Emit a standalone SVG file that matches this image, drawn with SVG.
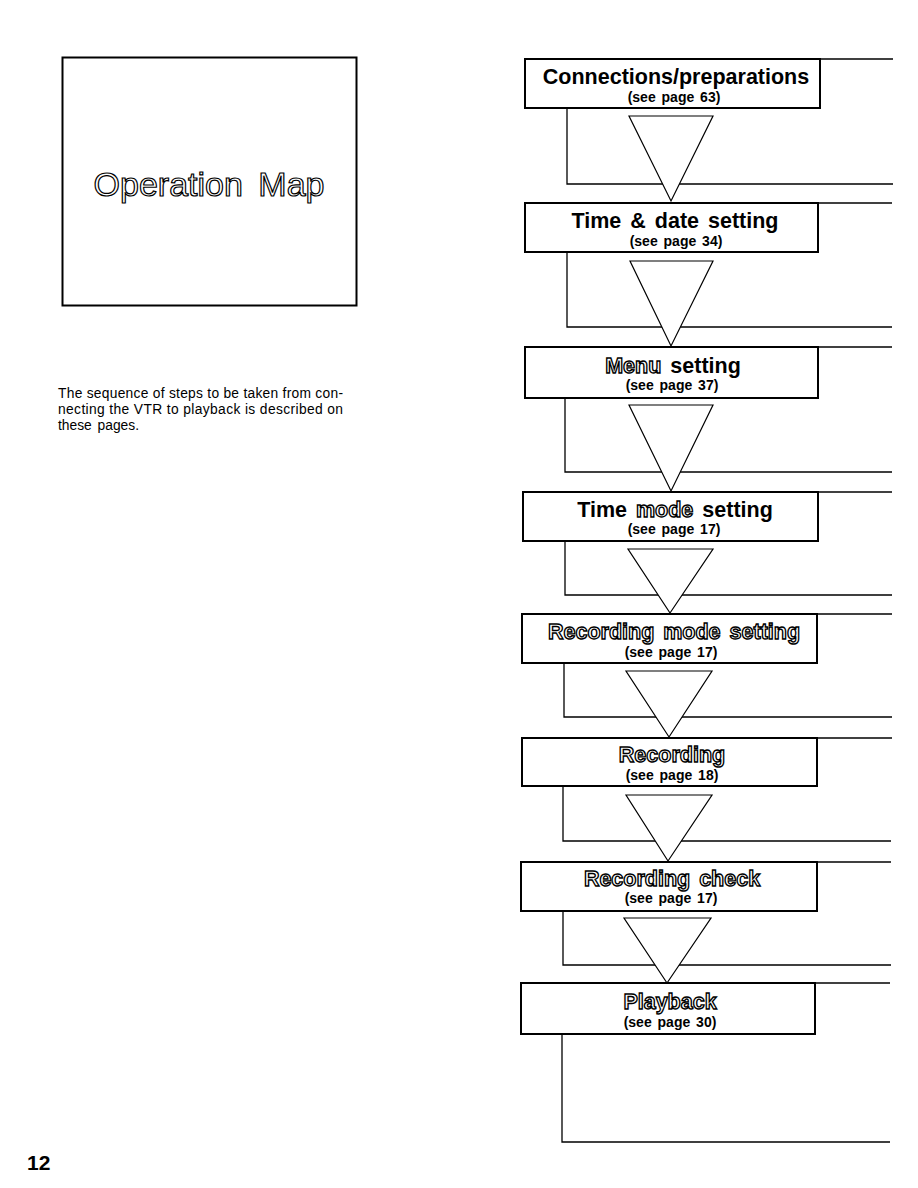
<svg xmlns="http://www.w3.org/2000/svg" width="918" height="1188" viewBox="0 0 918 1188">
<style>
text{font-family:"Liberation Sans",Arial,sans-serif;fill:#000}
.box{fill:#fff;stroke:#000;stroke-width:2}
.ln{fill:none;stroke:#000;stroke-width:1.3}
.tri{fill:#fff;stroke:#000;stroke-width:1.2;stroke-linejoin:miter}
.t{font-size:21.5px;font-weight:bold;text-anchor:middle}
.s{font-size:14px;font-weight:bold;text-anchor:middle;word-spacing:2px}
.o{fill:#fff;stroke:#000;stroke-width:1.35px}
.body{font-size:13.8px}
</style>
<rect width="918" height="1188" fill="#fff"/>

<g id="title-box">
<rect x="62.5" y="57.5" width="294" height="248" fill="#fff" stroke="#000" stroke-width="2"/>
<text x="209" y="196" font-size="34" text-anchor="middle" word-spacing="6" style="fill:#fff;stroke:#000;stroke-width:1.2px">Operation Map</text>
</g>

<g id="intro-text">
<text x="58" y="398" class="body" textLength="285" lengthAdjust="spacing">The sequence of steps to be taken from con-</text>
<text x="58" y="414" class="body" textLength="285" lengthAdjust="spacing">necting the VTR to playback is described on</text>
<text x="58" y="430" class="body" word-spacing="2">these pages.</text>
</g>

<g id="page-number">
<text x="27" y="1170" font-size="21" font-weight="bold">12</text>
</g>

<g id="connectors">
<line class="ln" x1="820" y1="59" x2="893" y2="59"/>
<line class="ln" x1="818" y1="203" x2="892" y2="203"/>
<line class="ln" x1="818" y1="347" x2="892" y2="347"/>
<line class="ln" x1="818" y1="492" x2="892" y2="492"/>
<line class="ln" x1="817" y1="614" x2="892" y2="614"/>
<line class="ln" x1="817" y1="738" x2="892" y2="738"/>
<line class="ln" x1="817" y1="862" x2="891" y2="862"/>
<line class="ln" x1="815" y1="983" x2="890" y2="983"/>
<polyline class="ln" points="567,108 567,184 893,184"/>
<polyline class="ln" points="567,252 567,327 892,327"/>
<polyline class="ln" points="565,398 565,472 892,472"/>
<polyline class="ln" points="565,541 565,595 892,595"/>
<polyline class="ln" points="564,663 564,717 892,717"/>
<polyline class="ln" points="563,786 563,841 891,841"/>
<polyline class="ln" points="563,911 563,965 891,965"/>
<polyline class="ln" points="562,1034 562,1142 890,1142"/>
<polygon class="tri" points="629,116 713,116 671,201"/>
<polygon class="tri" points="630,261 713,261 671,346"/>
<polygon class="tri" points="629,405 713,405 671,491"/>
<polygon class="tri" points="628,549 713,549 670,613"/>
<polygon class="tri" points="626,671 712,671 669,737"/>
<polygon class="tri" points="626,795 712,795 668,861"/>
<polygon class="tri" points="624,918 711,918 667,983"/>
</g>

<g id="node-connections">
<rect class="box" x="525" y="59" width="295" height="49"/>
<text class="t" x="676" y="84">Connections/preparations</text>
<text class="s" x="674" y="102">(see page 63)</text>
</g>
<g id="node-time-date">
<rect class="box" x="525" y="203" width="293" height="49"/>
<text class="t" x="675" y="228" word-spacing="3">Time &amp; date setting</text>
<text class="s" x="676" y="246">(see page 34)</text>
</g>
<g id="node-menu">
<rect class="box" x="525" y="347" width="293" height="51"/>
<text class="t" x="673" y="373" word-spacing="3"><tspan class="o">Menu</tspan> setting</text>
<text class="s" x="672" y="390">(see page 37)</text>
</g>
<g id="node-time-mode">
<rect class="box" x="523" y="492" width="295" height="49"/>
<text class="t" x="675" y="517" word-spacing="3">Time <tspan class="o">mode</tspan> setting</text>
<text class="s" x="674" y="534">(see page 17)</text>
</g>
<g id="node-rec-mode">
<rect class="box" x="522" y="614" width="295" height="49"/>
<text class="t o" x="674" y="639" word-spacing="3">Recording mode setting</text>
<text class="s" x="671" y="657">(see page 17)</text>
</g>
<g id="node-recording">
<rect class="box" x="522" y="738" width="295" height="48"/>
<text class="t o" x="672" y="762">Recording</text>
<text class="s" x="672" y="780">(see page 18)</text>
</g>
<g id="node-rec-check">
<rect class="box" x="521" y="862" width="296" height="49"/>
<text class="t o" x="672" y="886" word-spacing="3">Recording check</text>
<text class="s" x="671" y="903">(see page 17)</text>
</g>
<g id="node-playback">
<rect class="box" x="521" y="983" width="294" height="51"/>
<text class="t o" x="670" y="1009">Playback</text>
<text class="s" x="670" y="1027">(see page 30)</text>
</g>
</svg>
